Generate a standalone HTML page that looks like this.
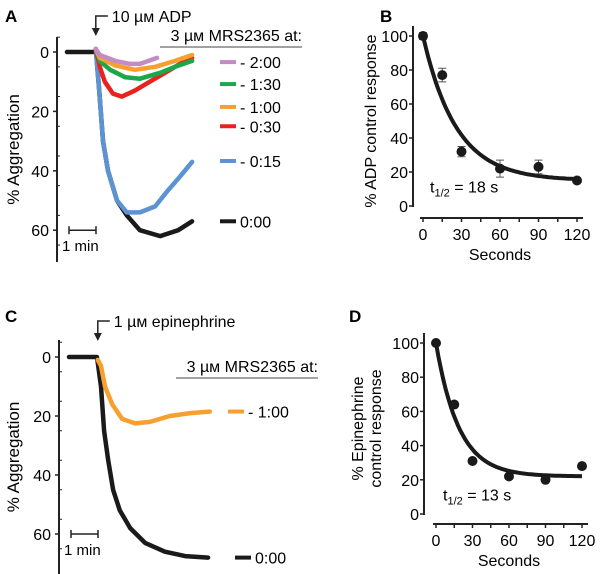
<!DOCTYPE html>
<html><head><meta charset="utf-8"><style>
body{margin:0;background:#fff}
svg{display:block;font-family:"Liberation Sans",Arial,sans-serif}
</style></head><body>
<svg id="c" width="600" height="574" viewBox="0 0 600 574" xmlns="http://www.w3.org/2000/svg">
<text x="5" y="22" font-size="17" font-weight="bold">A</text>
<text x="380" y="22" font-size="17" font-weight="bold">B</text>
<text x="5" y="322" font-size="17" font-weight="bold">C</text>
<text x="349" y="322" font-size="17" font-weight="bold">D</text>
<g id="gA"></g>
<g id="gB"></g>
<g id="gC"></g>
<g id="gD"></g>
</svg>
<script>
// Panel A traces: time (s) and % aggregation
const aT_black=[0,62,64,71,80,91,111,133,162,207,247,278];
const aV_black=[0,0,-1,12,30,40,50,55,60,62,60,57];
const aT_blue=[64,71,80,91,111,133,162,196,222,251,278];
const aV_blue=[-1,12,30,40,50,54,54,52,47,42,37];
const aT_red=[64,73,84,102,122,151,184,218,251,278];
const aV_red=[-1,5,10,14,15,13,10,7,4,2];
const aT_green=[64,73,96,129,162,207,240,278];
const aV_green=[-1,3,6,8.5,9,7,5,3];
const aT_orange=[64,73,107,151,196,240,278];
const aV_orange=[-1,2,4.5,6,5,3,1];
const aT_purple=[64,73,107,140,162,200];
const aV_purple=[-1,1,3,4,4,2];
const legA=["- 2:00","- 1:30","- 1:00","- 0:30","- 0:15","0:00"];
const legAy=[3.4,10.8,18.5,25,36.7,57];
// Panel C
const cT_black=[0,62,64,71,78,87,98,113,136,169,213,258,309];
const cV_black=[0,0,2,10,25,35,45,52,58,63,66,67.5,68];
const cT_orange=[64,71,80,96,118,147,180,224,269,313];
const cV_orange=[1,3,10,16,21,22.5,22,20,19,18.5];
// Panel B
const bX=[0,15,30,60,90,120];
const bY=[100,77,32,22,23,15];
const bE=[2,4,3,5,4,1];
const bHalf=18, bPlat=15;
// Panel D
const dX=[0,15,30,60,90,120];
const dY=[100,64,31,22,20,28];
const dHalf=13, dPlat=22;
const yTicksAgg=[0,20,40,60];
const yTicksPct=[0,20,40,60,80,100];
const xTicksSec=[0,30,60,90,120];

const NS="http://www.w3.org/2000/svg";
function mk(p,tag,at){const e=document.createElementNS(NS,tag);for(const k in at)e.setAttribute(k,at[k]);p.appendChild(e);return e;}
function txt(p,x,y,s,fs,anchor){const t=mk(p,'text',{x:x,y:y,'font-size':fs,'text-anchor':anchor||'start'});t.textContent=s;return t;}

function aggPanel(g,ax,y0,pxu,top,bot,trs,legs,arrowTxt,title){
  const sx=t=>ax+10+t*0.45, sy=v=>y0+v*pxu;
  const a=mk(g,'line',{x1:ax,y1:top,x2:ax,y2:bot,stroke:'#222','stroke-width':2});
  
  for(let v=-5;v<=70;v+=10){const y=sy(v);if(y>top&&y<bot)mk(g,'line',{x1:ax,y1:y,x2:ax+3,y2:y,stroke:'#222','stroke-width':1});}
  yTicksAgg.forEach(v=>{mk(g,'line',{x1:ax-4,y1:sy(v),x2:ax,y2:sy(v),stroke:'#222','stroke-width':1.5});
    const t=txt(g,ax-8,sy(v)+6,String(v),16,'end');});
  const yl=txt(g,0,0,'% Aggregation',17,'middle');yl.setAttribute('transform',`translate(19,${(top+bot)/2}) rotate(-90)`);
  
  trs.forEach(tr=>{const pts=tr.t.map((t,i)=>sx(t).toFixed(1)+','+sy(tr.v[i]).toFixed(1)).join(' ');
    const pl=mk(g,'polyline',{points:pts,fill:'none',stroke:tr.c,'stroke-width':4.5,'stroke-linejoin':'round','stroke-linecap':'round'});
    });
  legs.forEach(l=>{const y=sy(l.v);const ln=mk(g,'line',{x1:220+l.dx,y1:y,x2:236+l.dx,y2:y,stroke:l.c,'stroke-width':4});
    
    const t=txt(g,240+l.dx,y+6,l.s,16);});
  const sb=y0+60*pxu;mk(g,'line',{x1:ax+12,y1:sb,x2:ax+39,y2:sb,stroke:'#222','stroke-width':1.5});
  mk(g,'line',{x1:ax+12,y1:sb-4,x2:ax+12,y2:sb+4,stroke:'#222','stroke-width':1.5});
  mk(g,'line',{x1:ax+39,y1:sb-4,x2:ax+39,y2:sb+4,stroke:'#222','stroke-width':1.5});
  const s=txt(g,ax+5,sb+21,'1 min',15);
  const axx=sx(64),ay=y0-36;
  mk(g,'path',{d:`M${axx+12},${ay} H${axx} V${ay+16}`,fill:'none',stroke:'#222','stroke-width':1.5});
  mk(g,'path',{d:`M${axx-4},${ay+12} L${axx+4},${ay+12} L${axx},${ay+20} Z`,fill:'#222'});
  const at=txt(g,axx+16,ay+6,arrowTxt,16);
  const tt=txt(g,title.x,title.y,'3 µм MRS2365 at:',16,'end');
  mk(g,'line',{x1:title.x-142,y1:title.y+6,x2:title.x,y2:title.y+6,stroke:'#444','stroke-width':1});
}
aggPanel(document.getElementById('gA'),57,52,2.97,37,262,[
 {t:aT_black,v:aV_black,c:'#1a1a1a',n:'0-00'},{t:aT_blue,v:aV_blue,c:'#5b93d3',n:'0-15'},
 {t:aT_red,v:aV_red,c:'#e8231f',n:'0-30'},{t:aT_green,v:aV_green,c:'#1aa84a',n:'1-30'},
 {t:aT_orange,v:aV_orange,c:'#f7a030',n:'1-00'},{t:aT_purple,v:aV_purple,c:'#c58bc3',n:'2-00'}],
 legA.map((s,i)=>({s:s,v:legAy[i],c:['#c58bc3','#1aa84a','#f7a030','#e8231f','#5b93d3','#1a1a1a'][i],dx:0})),
 '10 µм ADP',{x:302,y:41});
aggPanel(document.getElementById('gC'),59,357,2.95,340,574,[
 {t:cT_black,v:cV_black,c:'#1a1a1a',n:'0-00'},{t:cT_orange,v:cV_orange,c:'#f7a030',n:'1-00'}],
 [{s:'- 1:00',v:18.5,c:'#f7a030',dx:8},{s:'0:00',v:68,c:'#1a1a1a',dx:15}],
 '1 µм epinephrine',{x:318,y:372});

function decayPanel(g,ax,y0,y100,x0,x120,xa,X,Y,E,half,plat,lblLines,lblX,tLabel){
  const sx=v=>x0+v*(x120-x0)/120, sy=v=>y0+v*(y100-y0)/100;
  const ya=mk(g,'line',{x1:ax,y1:y100-10,x2:ax,y2:y0+1,stroke:'#222','stroke-width':2});
  
  yTicksPct.forEach(v=>{mk(g,'line',{x1:ax-4,y1:sy(v),x2:ax,y2:sy(v),stroke:'#222','stroke-width':1.5});
    const t=txt(g,ax-5,sy(v)+6,String(v),16,'end');});
  const xl=mk(g,'line',{x1:x0-3,y1:xa,x2:x120+6,y2:xa,stroke:'#222','stroke-width':2});
  
  for(let v=0;v<=120;v+=15)mk(g,'line',{x1:sx(v),y1:xa,x2:sx(v),y2:xa+4,stroke:'#222','stroke-width':1.5});
  xTicksSec.forEach(v=>{const t=txt(g,sx(v),xa+22,String(v),16,'middle');});
  const xt=txt(g,(x0+x120)/2,xa+42,'Seconds',16,'middle');
  lblLines.forEach((s,i)=>{const t=txt(g,0,0,s,16,'middle');t.setAttribute('transform',`translate(${lblX[i]},${(y0+y100)/2}) rotate(-90)`);
    });
  let d='';for(let t=0;t<=120;t+=2){const v=plat+(100-plat)*Math.pow(0.5,t/half);d+=(t?'L':'M')+sx(t).toFixed(1)+','+sy(v).toFixed(1);}
  const f=mk(g,'path',{d:d,fill:'none',stroke:'#1a1a1a','stroke-width':4});
  X.forEach((x,i)=>{if(E){const e=E[i];mk(g,'path',{d:`M${sx(x)},${sy(Y[i]-e)}V${sy(Y[i]+e)}M${sx(x)-4},${sy(Y[i]-e)}h8M${sx(x)-4},${sy(Y[i]+e)}h8`,stroke:'#555','stroke-width':1,fill:'none'});}
    const c=mk(g,'circle',{cx:sx(x),cy:sy(Y[i]),r:5,fill:'#1a1a1a'});});
  const tl=mk(g,'text',{x:x0+7,y:sy(8),'font-size':16});
  tl.innerHTML='t<tspan font-size="11" dy="4">1/2</tspan><tspan dy="-4"> = '+tLabel+'</tspan>';
}
decayPanel(document.getElementById('gB'),413,206,36,423,577,218,bX,bY,bE,bHalf,bPlat,['% ADP control response'],[376],'18 s');
decayPanel(document.getElementById('gD'),424,514,343,436,582,524,dX,dY,null,dHalf,dPlat,['% Epinephrine','control response'],[363,381],'13 s');
</script>
</body></html>
